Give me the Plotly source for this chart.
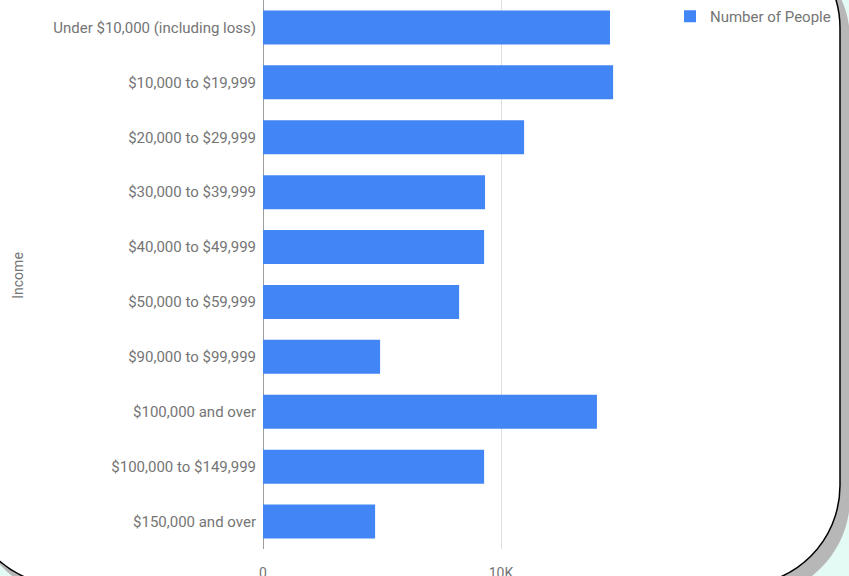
import plotly.graph_objects as go

categories = [
    "Under $10,000 (including loss)",
    "$10,000 to $19,999",
    "$20,000 to $29,999",
    "$30,000 to $39,999",
    "$40,000 to $49,999",
    "$50,000 to $59,999",
    "$90,000 to $99,999",
    "$100,000 and over",
    "$100,000 to $149,999",
    "$150,000 and over",
]
people = [14580, 14710, 10970, 9330, 9290, 8240, 4920, 14030, 9290, 4710]
x_tick_vals = [0, 10000]
x_tick_text = ["0", "10K"]
series_name = "Number of People"
axis_title = "Income"

W, H = 849, 576
PL, PR, PT, PB = 263, 670, 0, 549.5
TXT = "#757575"


def to_paper(x, y):
    return (x - PL) / (PR - PL), (PB - y) / (PB - PT)


def rr_path(L, T, R, B, r):
    k = 0.5523 * r
    pts = [
        ("M", [(L + r, T)]),
        ("L", [(R - r, T)]),
        ("C", [(R - r + k, T), (R, T + r - k), (R, T + r)]),
        ("L", [(R, B - r)]),
        ("C", [(R, B - r + k), (R - r + k, B), (R - r, B)]),
        ("L", [(L + r, B)]),
        ("C", [(L + r - k, B), (L, B - r + k), (L, B - r)]),
        ("L", [(L, T + r)]),
        ("C", [(L, T + r - k), (L + r - k, T), (L + r, T)]),
    ]
    s = ""
    for cmd, ps in pts:
        s += cmd + " " + " ".join("%.5f,%.5f" % to_paper(x, y) for x, y in ps) + " "
    return s + "Z"


fig = go.Figure()
fig.add_trace(go.Bar(
    y=categories, x=people, orientation="h", name=series_name,
    marker=dict(color="#4285f4", line=dict(width=0)), width=0.62,
    showlegend=True,
))

fig.update_layout(
    width=W, height=H,
    margin=dict(l=PL, r=W - PR, t=PT, b=H - PB, autoexpand=False),
    paper_bgcolor="#e4faf4",
    plot_bgcolor="rgba(0,0,0,0)",
    font=dict(family="Roboto", color=TXT, size=15),
    showlegend=True,
    legend=dict(x=1.0, y=1.0, xanchor="left", yanchor="top",
                bgcolor="rgba(0,0,0,0)", font=dict(size=15, color=TXT)),
    shapes=[
        dict(type="path", xref="paper", yref="paper", layer="below",
             path=rr_path(-26, -60, 850, 598, 100), fillcolor="#b7b7b7",
             line=dict(width=0)),
        dict(type="path", xref="paper", yref="paper", layer="below",
             path=rr_path(-35, -72, 840, 586, 100), fillcolor="#ffffff",
             line=dict(color="#000000", width=1.5)),
    ],
    annotations=[
        dict(text=axis_title, textangle=-90, xref="paper", yref="paper",
             x=(18 - PL) / (PR - PL), y=(PB - 275) / (PB - PT),
             xanchor="center", yanchor="middle", showarrow=False,
             font=dict(size=14, color=TXT)),
    ],
)

fig.update_yaxes(
    categoryorder="array", categoryarray=categories, autorange="reversed",
    showgrid=False, zeroline=False, showline=False, ticks="",
    ticklabelstandoff=6, tickfont=dict(size=15, color=TXT),
)
fig.update_xaxes(
    range=[0, 17100], tickvals=x_tick_vals, ticktext=x_tick_text,
    showgrid=True, gridcolor="#e0e0e0", gridwidth=1,
    zeroline=True, zerolinecolor="#9e9e9e", zerolinewidth=1,
    showline=False, ticks="", ticklabelstandoff=14,
    tickfont=dict(size=14, color=TXT),
)

fig.write_html("out.html", config={"displayModeBar": False},
               post_script="document.body.style.margin='0';")
